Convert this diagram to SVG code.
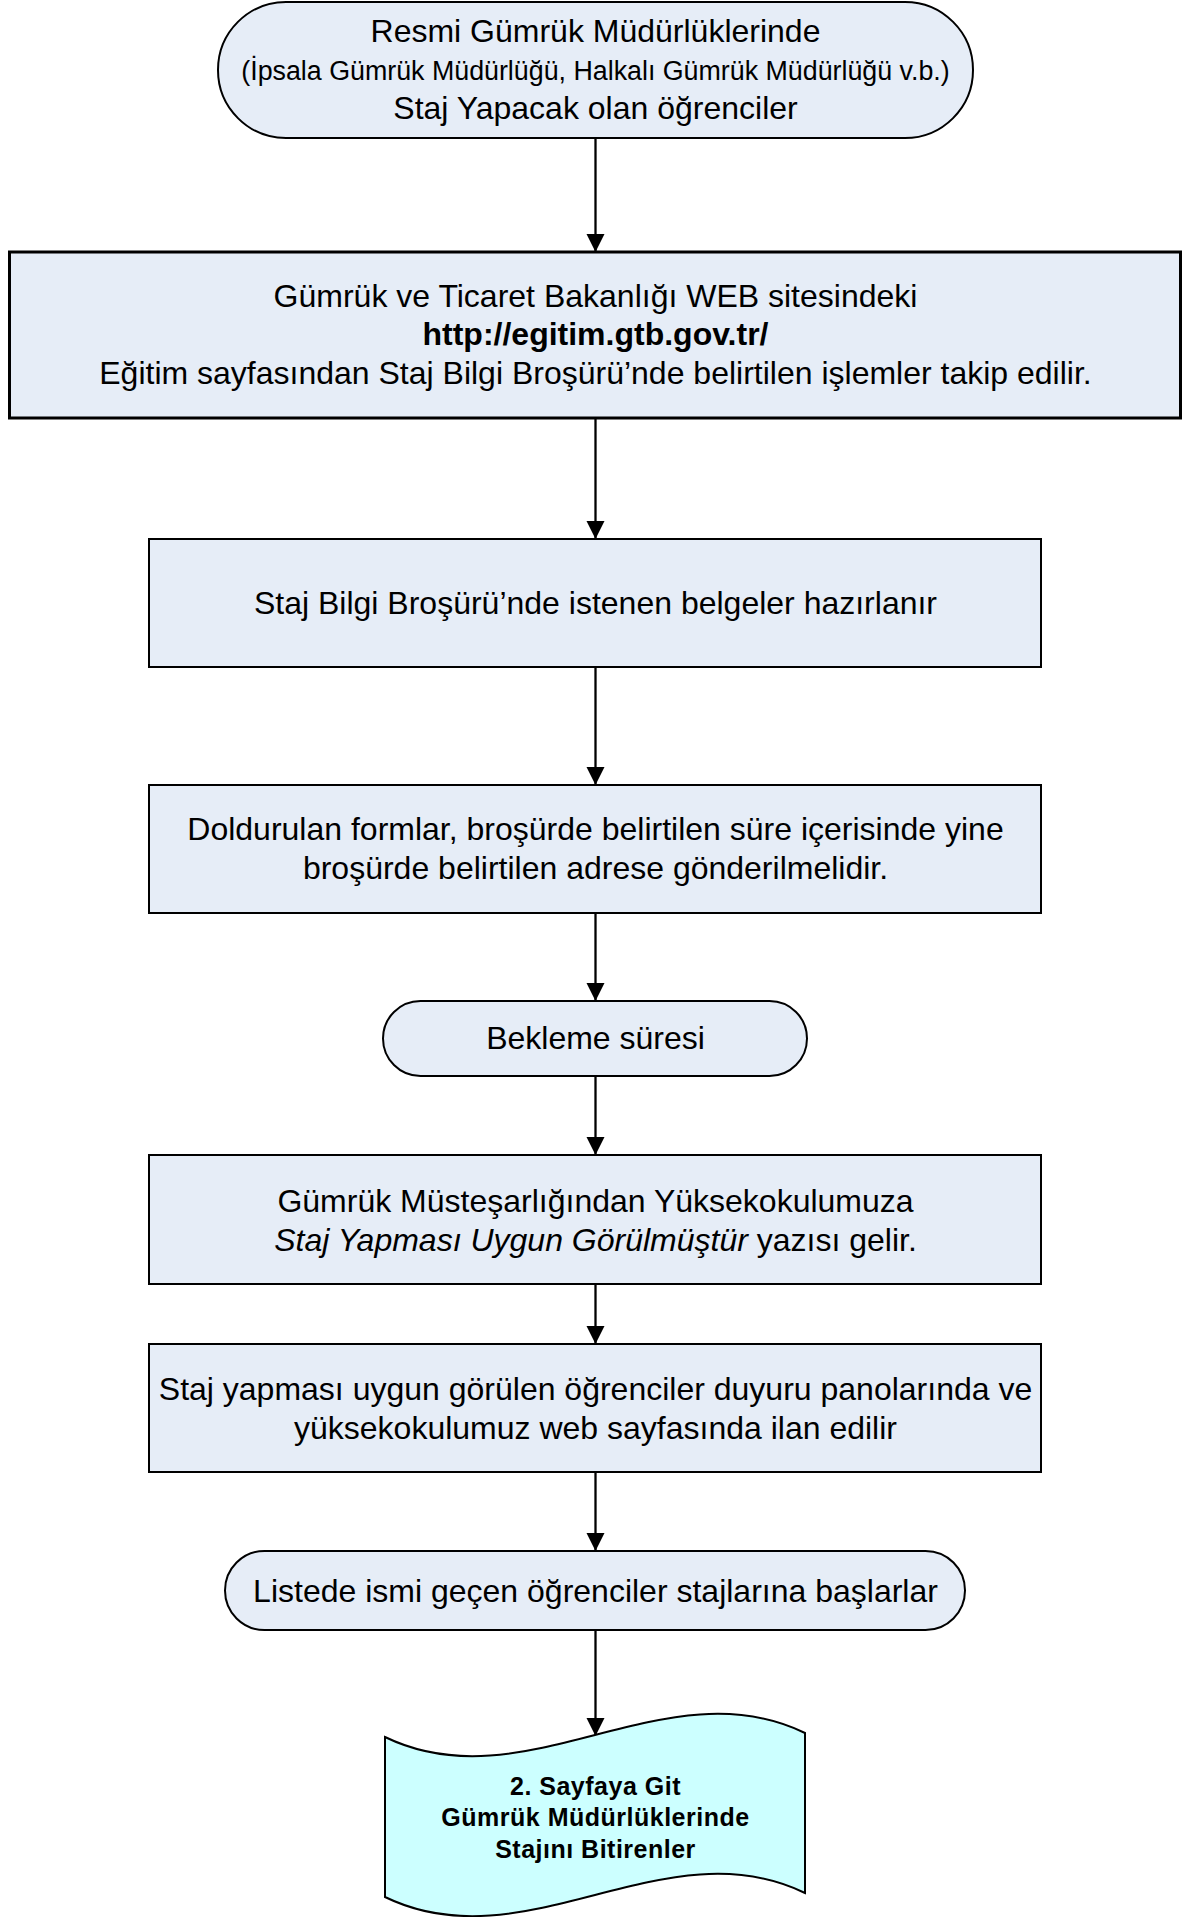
<svg xmlns="http://www.w3.org/2000/svg" width="1187" height="1917" viewBox="0 0 1187 1917">
<defs>
<style>
.box{fill:#E6EDF7;stroke:#000;stroke-width:2}
.thick{stroke-width:3}
.doc{fill:#CCFFFF;stroke:#000;stroke-width:2}
.t{font-family:"Liberation Sans",Arial,sans-serif;font-size:32px;fill:#000;text-anchor:middle}
.s{font-size:26.8px}
.b{font-weight:bold}
.d{font-family:"Liberation Sans",Arial,sans-serif;font-size:25px;font-weight:bold;fill:#000;text-anchor:middle;letter-spacing:0.5px}
.c{stroke:#000;stroke-width:2.3;fill:none;marker-end:url(#ah)}
</style>
<marker id="ah" markerUnits="userSpaceOnUse" markerWidth="18" markerHeight="20" refX="18" refY="9" orient="auto" viewBox="0 0 18 18">
<path d="M0,0 L18,9 L0,18 Z" fill="#000"/>
</marker>
</defs>
<rect width="1187" height="1917" fill="#fff"/>
<g id="connectors">
<line class="c" x1="595.5" y1="138" x2="595.5" y2="252"/>
<line class="c" x1="595.5" y1="418" x2="595.5" y2="539"/>
<line class="c" x1="595.5" y1="667" x2="595.5" y2="785"/>
<line class="c" x1="595.5" y1="913" x2="595.5" y2="1001"/>
<line class="c" x1="595.5" y1="1076" x2="595.5" y2="1155"/>
<line class="c" x1="595.5" y1="1284" x2="595.5" y2="1344"/>
<line class="c" x1="595.5" y1="1472" x2="595.5" y2="1551"/>
<line class="c" x1="595.5" y1="1630" x2="595.5" y2="1736"/>
</g>
<g id="n1">
<rect class="box" x="218" y="2" width="755" height="136" rx="68" ry="68"/>
<text class="t" x="595.5" y="42">Resmi Gümrük Müdürlüklerinde</text>
<text class="t s" x="595.5" y="80">(İpsala Gümrük Müdürlüğü, Halkalı Gümrük Müdürlüğü v.b.)</text>
<text class="t" x="595.5" y="119">Staj Yapacak olan öğrenciler</text>
</g>
<g id="n2">
<rect class="box thick" x="9.5" y="252" width="1171" height="166"/>
<text class="t" x="595.5" y="307">Gümrük ve Ticaret Bakanlığı WEB sitesindeki</text>
<text class="t b" x="595.5" y="345">http://egitim.gtb.gov.tr/</text>
<text class="t" x="595.5" y="384">Eğitim sayfasından Staj Bilgi Broşürü’nde belirtilen işlemler takip edilir.</text>
</g>
<g id="n3">
<rect class="box" x="149" y="539" width="892" height="128"/>
<text class="t" x="595.5" y="614">Staj Bilgi Broşürü’nde istenen belgeler hazırlanır</text>
</g>
<g id="n4">
<rect class="box" x="149" y="785" width="892" height="128"/>
<text class="t" x="595.5" y="840">Doldurulan formlar, broşürde belirtilen süre içerisinde yine</text>
<text class="t" x="595.5" y="879">broşürde belirtilen adrese gönderilmelidir.</text>
</g>
<g id="n5">
<rect class="box" x="383" y="1001" width="424" height="75" rx="37.5" ry="37.5"/>
<text class="t" x="595.5" y="1049">Bekleme süresi</text>
</g>
<g id="n6">
<rect class="box" x="149" y="1155" width="892" height="129"/>
<text class="t" x="595.5" y="1212">Gümrük Müsteşarlığından Yüksekokulumuza</text>
<text class="t" x="595.5" y="1251"><tspan font-style="italic">Staj Yapması Uygun Görülmüştür</tspan> yazısı gelir.</text>
</g>
<g id="n7">
<rect class="box" x="149" y="1344" width="892" height="128"/>
<text class="t" x="595.5" y="1400">Staj yapması uygun görülen öğrenciler duyuru panolarında ve</text>
<text class="t" x="595.5" y="1439">yüksekokulumuz web sayfasında ilan edilir</text>
</g>
<g id="n8">
<rect class="box" x="225" y="1551" width="740" height="79" rx="39.5" ry="39.5"/>
<text class="t" x="595.5" y="1602">Listede ismi geçen öğrenciler stajlarına başlarlar</text>
</g>
<g id="n9">
<path class="doc" d="M385,1737 C525,1805 665,1665 805,1733 L805,1893 C665,1825 525,1965 385,1897 Z"/>
<text class="d" x="595.5" y="1795">2. Sayfaya Git</text>
<text class="d" x="595.5" y="1826">Gümrük Müdürlüklerinde</text>
<text class="d" x="595.5" y="1858">Stajını Bitirenler</text>
</g>
</svg>
